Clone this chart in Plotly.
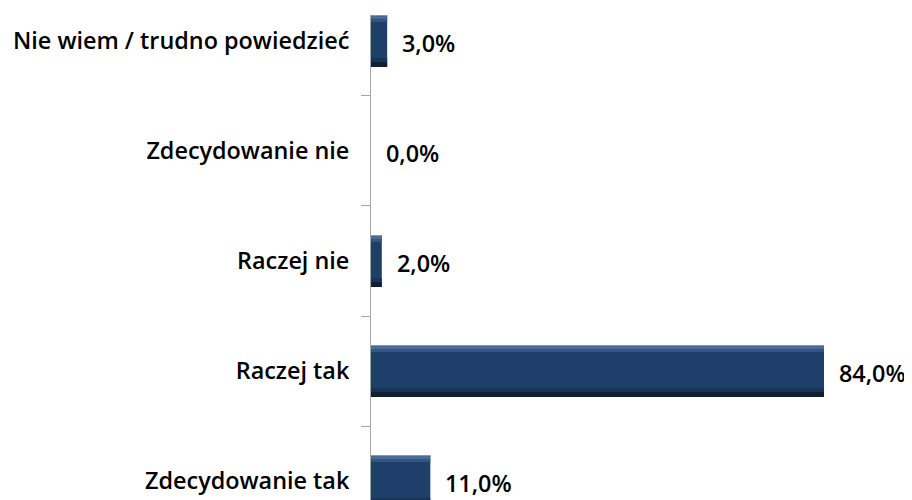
import plotly.graph_objects as go

categories = ["Zdecydowanie tak", "Raczej tak", "Raczej nie", "Zdecydowanie nie", "Nie wiem / trudno powiedzieć"]
values = [11.0, 84.0, 2.0, 0.0, 3.0]
labels = [f"{v:.1f}".replace(".", ",") + "%" for v in values]

FONT = "Open Sans"
FSIZE = 23.4
WEIGHT = 600
PX = 1 / 110.0          # one pixel in category units
BAR_PX = 52
BAR_W = BAR_PX * PX
# bevel bands: (from px, to px measured from bar top, colour)
BEVEL = [(0, 1, "#7f97ba"), (1, 4, "#4a6a97"), (4, 7, "#345481"),
         (43, 47, "#1a3457"), (47, 52, "#111f35")]

fig = go.Figure()
fig.add_trace(go.Bar(
    x=values, y=categories, orientation="h", width=BAR_W,
    marker=dict(color="#1f3f6b", line=dict(width=0)),
    hoverinfo="skip", showlegend=False,
))
for a, b, col in BEVEL:
    fig.add_trace(go.Bar(
        x=values, y=categories, orientation="h",
        width=(b - a) * PX, offset=BAR_W / 2 - b * PX,
        marker=dict(color=col, line=dict(width=0)),
        hoverinfo="skip", showlegend=False,
    ))

for c, v, t in zip(categories, values, labels):
    fig.add_annotation(
        x=v, y=c, text=t, showarrow=False, xanchor="left", yanchor="middle",
        xshift=13, yshift=-2,
        font=dict(family=FONT, size=FSIZE, color="#000000", weight=WEIGHT),
    )

fig.update_layout(
    width=912, height=500,
    margin=dict(l=363, r=0, t=7, b=0),
    paper_bgcolor="white", plot_bgcolor="white",
    barmode="overlay",
    font=dict(family=FONT, size=FSIZE, color="#000000"),
    xaxis=dict(range=[0, 101.8], visible=False, fixedrange=True),
    yaxis=dict(
        type="category", categoryorder="array", categoryarray=categories,
        range=[-0.245, 4.236],
        showline=True, linecolor="#a6a6a6", linewidth=1,
        ticks="outside", tickson="boundaries", ticklen=9, tickcolor="#a6a6a6",
        ticklabelstandoff=16,
        showgrid=False, zeroline=False,
        tickfont=dict(family=FONT, size=FSIZE, color="#000000", weight=WEIGHT),
    ),
)

fig.write_html("out.html")
